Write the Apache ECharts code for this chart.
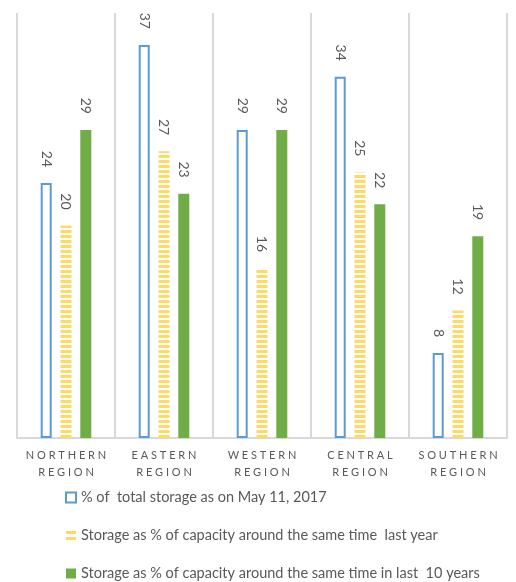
<!DOCTYPE html>
<html>
<head>
<meta charset="utf-8">
<script src="https://cdn.jsdelivr.net/npm/echarts@6/dist/echarts.min.js"></script>
<style>
  html, body { margin: 0; padding: 0; background: #fff; }
  #chart { width: 516px; height: 582px; }
</style>
</head>
<body>
<div id="chart"></div>
<script>
// Reservoir storage by region
const regions = ['NORTHERN REGION', 'EASTERN REGION', 'WESTERN REGION', 'CENTRAL REGION', 'SOUTHERN REGION'];
const seriesNames = [
  '% of  total storage as on May 11, 2017',
  'Storage as % of capacity around the same time  last year',
  'Storage as % of capacity around the same time in last  10 years'
];
const currentStorage = [24, 37, 29, 34, 8];
const lastYear = [20, 27, 16, 25, 12];
const tenYearAvg = [29, 23, 29, 22, 19];

// spaced-out two-line category labels
function spaced(label) {
  return label.split(' ').map(w => w.split('').join(' ')).join('\n');
}

// horizontal dash pattern for the "last year" bars
const stripe = document.createElement('canvas');
stripe.width = 4; stripe.height = 5;
const sctx = stripe.getContext('2d');
sctx.fillStyle = '#FFD966';
sctx.fillRect(0, 0, 4, 3);

const fontStack = 'Lato, "Open Sans", sans-serif';

const labelCommon = {
  show: true,
  position: 'top',
  rotate: -90,
  align: 'right',
  verticalAlign: 'middle',
  distance: 16,
  color: '#595959',
  fontSize: 14,
  fontFamily: fontStack
};

const chart = echarts.init(document.getElementById('chart'));
chart.setOption({
  animation: false,
  grid: { left: 17, right: 9, top: 13, bottom: 144 },
  xAxis: {
    type: 'category',
    data: regions,
    axisLine: { lineStyle: { color: '#D9D9D9', width: 2 } },
    axisTick: { show: false },
    splitLine: { show: true, interval: 0, lineStyle: { color: '#D9D9D9', width: 2 } },
    axisLabel: {
      interval: 0,
      hideOverlap: false,
      formatter: v => spaced(v),
      color: '#595959',
      fontSize: 11,
      lineHeight: 17,
      margin: 9,
      fontFamily: fontStack
    }
  },
  yAxis: {
    type: 'value',
    min: 0,
    max: 40,
    show: false,
    splitLine: { show: false }
  },
  legend: {
    orient: 'vertical',
    left: 60,
    top: 485,
    height: 120,
    itemWidth: 10,
    itemHeight: 10,
    itemGap: 23,
    textStyle: { color: '#595959', fontSize: 14.5, fontFamily: fontStack },
    data: [
      { name: seriesNames[0], icon: 'rect', itemStyle: { color: '#fff', borderColor: '#5B9BD5', borderWidth: 2 } },
      { name: seriesNames[1], icon: 'path://M0,0H10V3H0Z M0,6H10V9H0Z', itemStyle: { color: '#FFD966', borderWidth: 0 } },
      { name: seriesNames[2], icon: 'rect', itemStyle: { color: '#70AD47' } }
    ]
  },
  series: [
    {
      name: seriesNames[0],
      type: 'bar',
      data: currentStorage,
      barWidth: 11,
      barGap: '80%',
      itemStyle: { color: '#fff', borderColor: '#5B9BD5', borderWidth: 2 },
      label: labelCommon
    },
    {
      name: seriesNames[1],
      type: 'bar',
      data: lastYear,
      barWidth: 11,
      barGap: '80%',
      itemStyle: { color: { image: stripe, repeat: 'repeat' } },
      label: labelCommon
    },
    {
      name: seriesNames[2],
      type: 'bar',
      data: tenYearAvg,
      barWidth: 11,
      barGap: '80%',
      itemStyle: { color: '#70AD47' },
      label: labelCommon
    }
  ]
});
</script>
</body>
</html>
